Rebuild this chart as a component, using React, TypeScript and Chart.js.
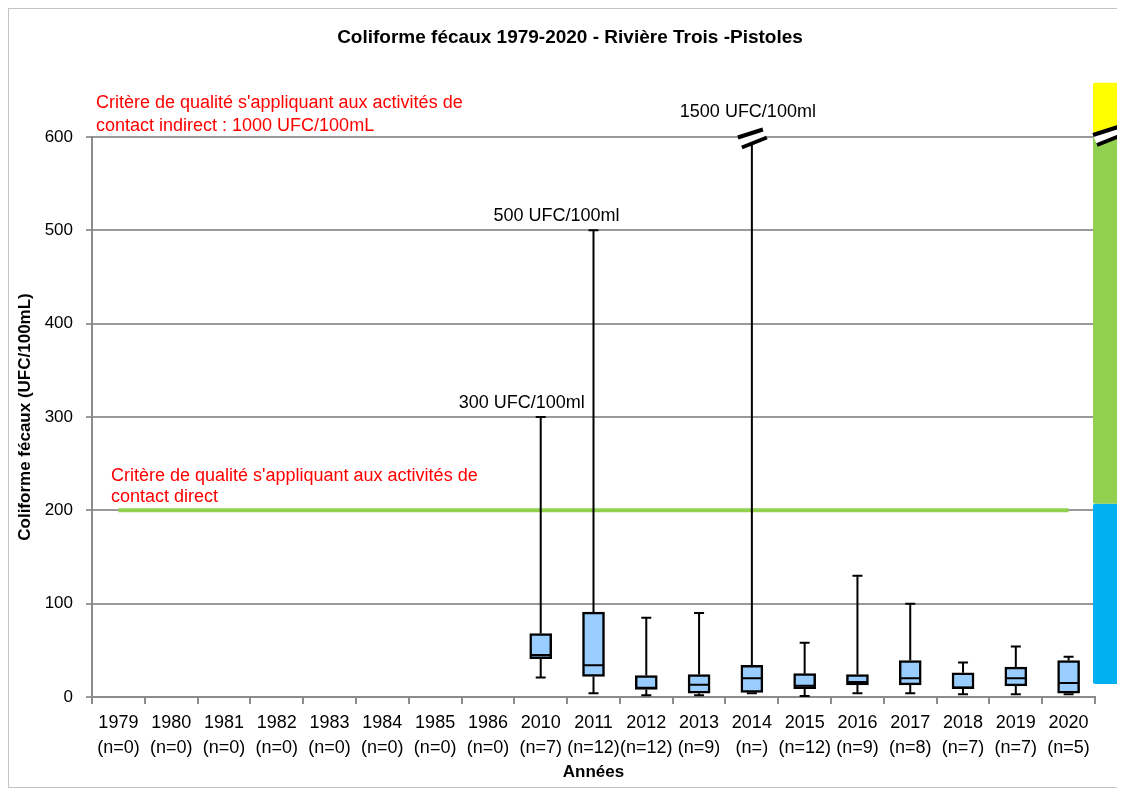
import React, { useEffect, useRef } from "react";
import { Chart, registerables } from "chart.js";

Chart.register(...registerables);

const FONT = '"Liberation Sans", Arial, sans-serif';

const categories = ["1979", "1980", "1981", "1982", "1983", "1984", "1985", "1986", "2010", "2011", "2012", "2013", "2014", "2015", "2016", "2017", "2018", "2019", "2020"];
const counts = ["(n=0)", "(n=0)", "(n=0)", "(n=0)", "(n=0)", "(n=0)", "(n=0)", "(n=0)", "(n=7)", "(n=12)", "(n=12)", "(n=9)", "(n=)", "(n=12)", "(n=9)", "(n=8)", "(n=7)", "(n=7)", "(n=5)"];

const mins: (number | null)[] = [null, null, null, null, null, null, null, null, 21, 4, 2, 2, 4, 1, 4, 4, 3, 3, 3];
const q1s: (number | null)[] = [null, null, null, null, null, null, null, null, 41, 22, 8, 4, 5, 9, 13, 13, 9, 12, 4];
const medians: (number | null)[] = [null, null, null, null, null, null, null, null, 45, 34, 10, 13, 20, 12, 16, 20, 10, 20, 15];
const q3s: (number | null)[] = [null, null, null, null, null, null, null, null, 68, 91, 23, 24, 34, 25, 24, 39, 26, 32, 39];
const maxs: (number | null)[] = [null, null, null, null, null, null, null, null, 300, 500, 85, 90, 1500, 58, 130, 100, 37, 54, 43];

const directCriterion = 200;
const yMin = 0;
const yMax = 600;
const yStep = 100;

// label annotations for whiskers beyond the visible values
const maxLabels = [
  { year: "2010", text: "300 UFC/100ml", dx: -19 },
  { year: "2011", text: "500 UFC/100ml", dx: -37 },
  { year: "2014", text: "1500 UFC/100ml", dx: -4 },
];

// right colour band (value ranges)
const bands = [
  { from: 14, to: 207, color: "#00B0F0" },
  { from: 207, to: 600, color: "#92D050" },
  { from: 604, to: 658, color: "#FFFF00" },
];

function breakMark(ctx: CanvasRenderingContext2D, cx: number, cy: number) {
  ctx.save();
  ctx.fillStyle = "#fff";
  ctx.beginPath();
  ctx.moveTo(cx - 14, cy - 1);
  ctx.lineTo(cx + 11, cy - 9);
  ctx.lineTo(cx + 15, cy - 1);
  ctx.lineTo(cx - 10, cy + 9);
  ctx.closePath();
  ctx.fill();
  ctx.strokeStyle = "#000";
  ctx.lineWidth = 4;
  ctx.beginPath();
  ctx.moveTo(cx - 14, cy - 1);
  ctx.lineTo(cx + 11, cy - 9);
  ctx.moveTo(cx - 10, cy + 9);
  ctx.lineTo(cx + 15, cy - 1);
  ctx.stroke();
  ctx.restore();
}

const boxPlugin = {
  id: "boxExtras",
  afterDatasetsDraw(chart: any) {
    const { ctx, scales } = chart;
    const x = scales.x;
    const y = scales.y;
    const meta = chart.getDatasetMeta(0);
    ctx.save();
    ctx.strokeStyle = "#000";
    ctx.lineWidth = 2;
    categories.forEach((_c, i) => {
      if (q1s[i] == null) return;
      const cx = x.getPixelForValue(i);
      const el = meta.data[i];
      const w = el ? el.width : 22;
      const capped = (maxs[i] as number) > yMax;
      const top = y.getPixelForValue(Math.min(maxs[i] as number, yMax));
      const bot = y.getPixelForValue(mins[i] as number);
      const p1 = y.getPixelForValue(q1s[i] as number);
      const p3 = y.getPixelForValue(q3s[i] as number);
      const pm = y.getPixelForValue(medians[i] as number);
      ctx.beginPath();
      ctx.moveTo(cx, p3);
      ctx.lineTo(cx, top);
      ctx.moveTo(cx, p1);
      ctx.lineTo(cx, bot);
      if (!capped) {
        ctx.moveTo(cx - 5, top);
        ctx.lineTo(cx + 5, top);
      }
      ctx.moveTo(cx - 5, bot);
      ctx.lineTo(cx + 5, bot);
      ctx.moveTo(cx - w / 2 + 1, pm);
      ctx.lineTo(cx + w / 2 - 1, pm);
      ctx.stroke();
      if (capped) breakMark(ctx, cx, top + 1.5);
    });
    ctx.restore();
  },
  afterDraw(chart: any) {
    const { ctx, scales, chartArea, width } = chart;
    const x = scales.x;
    const y = scales.y;
    ctx.save();
    // title
    ctx.fillStyle = "#000";
    ctx.font = `bold 19px ${FONT}`;
    ctx.textAlign = "center";
    ctx.textBaseline = "alphabetic";
    ctx.fillText("Coliforme fécaux 1979-2020 - Rivière Trois -Pistoles", width / 2 + 5, 34);

    // criterion texts
    ctx.fillStyle = "#FF0000";
    ctx.font = `18px ${FONT}`;
    ctx.textAlign = "left";
    const yTop = y.getPixelForValue(yMax);
    ctx.fillText("Critère de qualité s'appliquant aux activités de", chartArea.left + 4, yTop - 29);
    ctx.fillText("contact indirect : 1000 UFC/100mL", chartArea.left + 4, yTop - 6);
    const yDir = y.getPixelForValue(directCriterion);
    ctx.fillText("Critère de qualité s'appliquant aux activités de", chartArea.left + 19, yDir - 29);
    ctx.fillText("contact direct", chartArea.left + 19, yDir - 8);

    // max labels
    ctx.fillStyle = "#000";
    ctx.font = `18px ${FONT}`;
    ctx.textAlign = "center";
    maxLabels.forEach((l) => {
      const i = categories.indexOf(l.year);
      const v = Math.min(maxs[i] as number, yMax);
      const px = x.getPixelForValue(i) + l.dx;
      const py = y.getPixelForValue(v) - (v === yMax ? 20 : 9);
      ctx.fillText(l.text, px, py);
    });

    // colour band
    const bx = chartArea.right - 2;
    const bw = 26;
    bands.forEach((b) => {
      const t = y.getPixelForValue(b.to);
      const bt = y.getPixelForValue(b.from);
      ctx.fillStyle = b.color;
      ctx.beginPath();
      if ((ctx as any).roundRect) (ctx as any).roundRect(bx, t, bw, bt - t, 2);
      else ctx.rect(bx, t, bw, bt - t);
      ctx.fill();
    });
    breakMark(ctx, bx + 14, y.getPixelForValue(yMax) - 1);
    ctx.restore();
  },
};

export default function App() {
  const ref = useRef<HTMLCanvasElement | null>(null);
  useEffect(() => {
    document.documentElement.style.overflow = "hidden";
    if (!ref.current) return;
    const boxes = categories.map((_c, i) => (q1s[i] == null ? null : [q1s[i], q3s[i]]));
    const chart = new Chart(ref.current, {
      type: "bar",
      data: {
        labels: categories.map((c, i) => [c, counts[i]]),
        datasets: [
          {
            type: "bar",
            data: boxes as any,
            backgroundColor: "#99CCFF",
            borderColor: "#000",
            borderWidth: 2.5,
            borderSkipped: false,
            barThickness: 22,
            order: 1,
          },
          {
            type: "line",
            data: categories.map(() => directCriterion),
            borderColor: "#92D050",
            borderWidth: 4,
            pointRadius: 0,
            fill: false,
            order: 2,
          } as any,
        ],
      },
      options: {
        responsive: false,
        animation: false,
        devicePixelRatio: 1,
        layout: { padding: { top: 128, right: 26, left: 0, bottom: 0 } },
        plugins: { legend: { display: false }, title: { display: false }, tooltip: { enabled: false } },
        scales: {
          x: {
            offset: true,
            grid: { offset: true, drawOnChartArea: false, drawTicks: true, tickLength: 7, color: "#8c8c8c", lineWidth: 2 },
            border: { color: "#8c8c8c", width: 2 },
            ticks: { autoSkip: false, maxRotation: 0, minRotation: 0, padding: 6, color: "#000", font: { family: FONT, size: 18, lineHeight: 1.4 } },
            title: { display: true, text: "Années", color: "#000", font: { family: FONT, size: 17, weight: "bold" }, padding: { top: 0, bottom: 4 } },
            afterFit: (s: any) => { s.height = 90; },
          },
          y: {
            min: yMin,
            max: yMax,
            ticks: { stepSize: yStep, padding: 13, color: "#000", font: { family: FONT, size: 17 } },
            grid: { color: "#9a9a9a", lineWidth: 2, drawTicks: true, tickLength: 6 },
            border: { color: "#8c8c8c", width: 2 },
            title: { display: true, text: "Coliforme fécaux (UFC/100mL)", color: "#000", font: { family: FONT, size: 17, weight: "bold" }, padding: { top: 6, bottom: 0 } },
            afterFit: (s: any) => { s.width = 83; },
          },
        },
      },
      plugins: [boxPlugin],
    } as any);
    return () => chart.destroy();
  }, []);
  return (
    <div style={{ width: 1112, height: 778, border: "1px solid #c4c4c4", background: "#fff" }}>
      <canvas ref={ref} width={1112} height={778} style={{ display: "block" }} />
    </div>
  );
}
